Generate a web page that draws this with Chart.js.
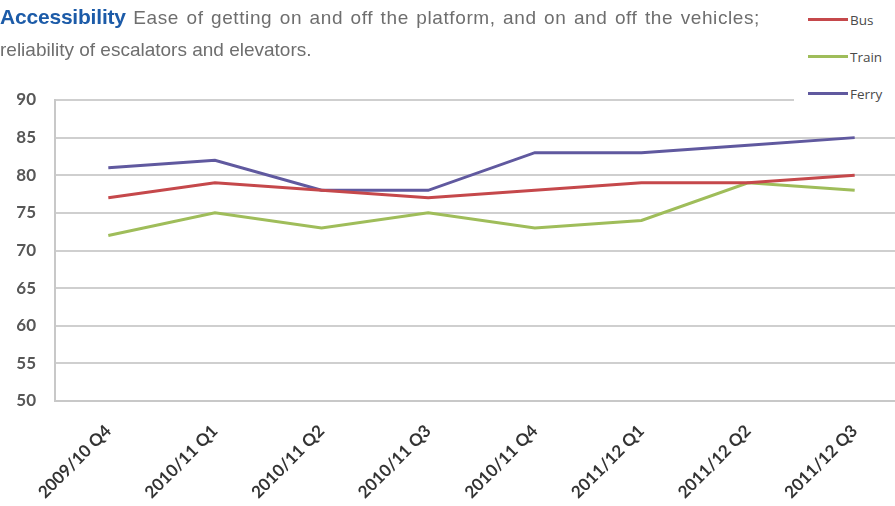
<!DOCTYPE html>
<html>
<head>
<meta charset="utf-8">
<script src="https://cdn.jsdelivr.net/npm/chart.js@4.4.1/dist/chart.umd.min.js"></script>
<style>
  html, body { margin: 0; padding: 0; background: #fff; overflow: hidden; }
  body { width: 895px; height: 506px; position: relative; }
  .title { position: absolute; left: 0; font-family: "Liberation Sans", Arial, sans-serif; font-size: 19px; line-height: 34px; color: #6e6e6e; white-space: nowrap; }
  #t1 { top: 0; width: 760px; white-space: normal; letter-spacing: 0.6px; text-align: justify; text-align-last: justify; }
  #t2 { top: 33px; }
  .title b { color: #1c5ba8; font-size: 21px; letter-spacing: -0.2px; }
  #wrap { position: absolute; left: 0; top: 0; width: 910px; height: 506px; }
  #legend { position: absolute; left: 794px; top: 1px; width: 101px; background: #fff; font-family: "Open Sans", sans-serif; font-size: 13.5px; color: #4a4a4a; z-index: 2; }
  .item { height: 37px; display: flex; align-items: center; }
  .swatch { width: 40px; height: 3px; margin-left: 14px; margin-right: 2px; }
</style>
</head>
<body>
<div id="wrap"><canvas id="chart" width="910" height="506"></canvas></div>
<div class="title" id="t1"><b>Accessibility</b> Ease of getting on and off the platform, and on and off the vehicles;</div>
<div class="title" id="t2">reliability of escalators and elevators.</div>
<div id="legend"></div>
<script>
const quarters = ['2009/10 Q4', '2010/11 Q1', '2010/11 Q2', '2010/11 Q3', '2010/11 Q4', '2011/12 Q1', '2011/12 Q2', '2011/12 Q3'];
const busScores = [77, 79, 78, 77, 78, 79, 79, 80];
const trainScores = [72, 75, 73, 75, 73, 74, 79, 78];
const ferryScores = [81, 82, 78, 78, 83, 83, 84, 85];
const seriesNames = ['Bus', 'Train', 'Ferry'];
const seriesColors = ['#c5484b', '#9fbd5a', '#60599f'];

const allSeries = [busScores, trainScores, ferryScores];
const datasets = allSeries.map((vals, i) => ({
  label: seriesNames[i],
  data: vals,
  borderColor: seriesColors[i],
  backgroundColor: seriesColors[i],
  borderWidth: 3,
  pointRadius: 0,
  tension: 0,
  fill: false
}));

// legend on the right, stacked
const legend = document.getElementById('legend');
seriesNames.forEach((name, i) => {
  const row = document.createElement('div');
  row.className = 'item';
  row.innerHTML = `<span class="swatch" style="background:${seriesColors[i]}"></span><span>${name}</span>`;
  legend.appendChild(row);
});

new Chart(document.getElementById('chart'), {
  type: 'line',
  data: { labels: quarters, datasets: datasets },
  options: {
    responsive: false,
    animation: false,
    maintainAspectRatio: false,
    layout: { padding: { top: 100, right: 2, left: 0, bottom: 0 } },
    plugins: { legend: { display: false }, tooltip: { enabled: false } },
    scales: {
      x: {
        offset: true,
        grid: { display: false, drawTicks: false },
        border: { color: '#c8c8c8', width: 2 },
        ticks: {
          maxRotation: 45, minRotation: 45, padding: 20, autoSkip: false,
          color: '#333', font: { family: 'Lato', size: 17, weight: 'bold' }
        },
        afterFit: s => { s.height = 105; }
      },
      y: {
        min: 50, max: 90,
        ticks: { stepSize: 5, padding: 19, color: '#575757', font: { family: 'Lato', size: 17, weight: 'bold' } },
        grid: { color: '#cfcfcf', lineWidth: 2, drawTicks: false },
        border: { color: '#c8c8c8', width: 2 },
        afterFit: s => { s.width = 55; }
      }
    }
  }
});
</script>
</body>
</html>
